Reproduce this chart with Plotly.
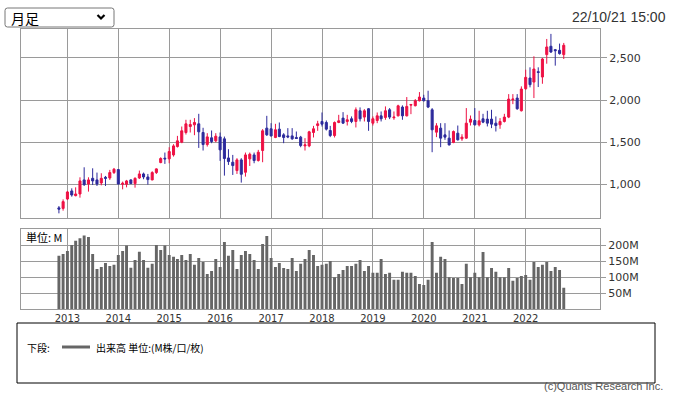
import plotly.graph_objects as go
import pandas as pd

W, H = 675, 398
def px(x): return x / W
def py(y): return 1 - y / H

# ---- data (monthly, Nov 2012 .. Oct 2022) ----
months = pd.date_range("2012-11-01", periods=120, freq="MS").strftime("%Y-%m-%d").tolist()

open_ = [720, 714, 825, 921, 865, 885, 1052, 1004, 1071, 1052, 1016, 1083, 1075, 1139, 1175, 1000, 1000, 1052, 1008, 1075,
         1123, 1087, 1052, 1139, 1258, 1310, 1302, 1349, 1448, 1500, 1615, 1686, 1706, 1718, 1615, 1472, 1552, 1516, 1563, 1540,
         1313, 1262, 1163, 1290, 1143, 1302, 1349, 1282, 1401, 1667, 1659, 1556, 1655, 1587, 1575, 1575, 1556, 1560, 1456, 1456,
         1615, 1698, 1746, 1734, 1639, 1579, 1734, 1786, 1746, 1778, 1746, 1873, 1798, 1897, 1726, 1758, 1813, 1794, 1885, 1790,
         1813, 1917, 1813, 1940, 1933, 1992, 2024, 1992, 1885, 1619, 1667, 1587, 1548, 1496, 1607, 1540, 1548, 1738, 1758, 1706,
         1778, 1774, 1774, 1726, 1706, 1746, 1798, 2004, 2024, 1873, 2135, 2262, 2214, 2337, 2274, 2540, 2639, 2599, 2591, 2540]
high = [742, 821, 921, 952, 964, 1083, 1202, 1083, 1190, 1139, 1131, 1099, 1171, 1194, 1179, 1032, 1052, 1060, 1083, 1163,
        1139, 1123, 1155, 1190, 1321, 1377, 1440, 1476, 1575, 1686, 1766, 1766, 1786, 1837, 1671, 1607, 1639, 1607, 1615, 1567,
        1417, 1349, 1310, 1310, 1377, 1377, 1377, 1409, 1655, 1813, 1726, 1718, 1734, 1607, 1667, 1667, 1627, 1575, 1548, 1635,
        1694, 1754, 1853, 1758, 1694, 1746, 1825, 1857, 1825, 1806, 1913, 1913, 1893, 1905, 1806, 1853, 1865, 1925, 1905, 1865,
        1945, 1937, 2036, 1952, 2012, 2095, 2063, 2111, 1905, 1726, 1726, 1726, 1639, 1639, 1698, 1595, 1905, 1817, 1905, 1873,
        1837, 1873, 1885, 1806, 1786, 1837, 2071, 2071, 2071, 2163, 2361, 2389, 2520, 2389, 2500, 2726, 2786, 2607, 2671, 2679]
low = [655, 687, 813, 853, 857, 841, 980, 913, 992, 980, 988, 980, 1052, 1123, 996, 940, 964, 1004, 960, 1063,
       1060, 996, 1048, 1123, 1250, 1242, 1250, 1329, 1437, 1488, 1591, 1615, 1583, 1432, 1401, 1448, 1488, 1500, 1278, 1103,
       1230, 1111, 1123, 1020, 1091, 1218, 1250, 1270, 1262, 1575, 1567, 1548, 1560, 1488, 1548, 1528, 1540, 1440, 1401, 1440,
       1556, 1635, 1686, 1639, 1560, 1556, 1726, 1718, 1698, 1726, 1675, 1746, 1746, 1635, 1698, 1726, 1746, 1766, 1774, 1766,
       1806, 1766, 1806, 1833, 1925, 1984, 1984, 1905, 1381, 1560, 1441, 1528, 1460, 1488, 1520, 1516, 1540, 1698, 1698, 1687,
       1726, 1687, 1667, 1627, 1659, 1734, 1786, 1952, 1885, 1865, 2123, 2151, 2024, 2155, 2194, 2432, 2560, 2409, 2540, 2488]
close = [705, 794, 909, 873, 885, 1040, 996, 1052, 1040, 1004, 1071, 1071, 1139, 1179, 1004, 1012, 1040, 1008, 1071, 1123,
         1087, 1056, 1139, 1183, 1306, 1302, 1389, 1456, 1516, 1635, 1718, 1710, 1734, 1623, 1472, 1563, 1508, 1571, 1409, 1306,
         1270, 1222, 1290, 1119, 1349, 1357, 1282, 1381, 1635, 1587, 1575, 1647, 1567, 1556, 1563, 1540, 1544, 1460, 1468, 1623,
         1659, 1718, 1714, 1655, 1579, 1734, 1754, 1726, 1766, 1746, 1885, 1778, 1873, 1746, 1778, 1813, 1778, 1873, 1798, 1798,
         1932, 1813, 1925, 1948, 1992, 2036, 1992, 1917, 1647, 1694, 1548, 1560, 1468, 1627, 1528, 1560, 1726, 1774, 1706, 1754,
         1738, 1726, 1714, 1698, 1746, 1798, 2012, 2012, 1897, 2131, 2270, 2183, 2369, 2329, 2488, 2631, 2571, 2587, 2552, 2651]
volume_m = [167, 173, 182, 201, 214, 222, 231, 226, 173, 126, 132, 145, 135, 139, 170, 182, 199, 130, 154, 180,
            154, 130, 142, 201, 185, 199, 170, 164, 157, 170, 154, 173, 139, 160, 148, 110, 120, 157, 132, 210,
            167, 185, 126, 170, 182, 173, 154, 126, 204, 229, 160, 132, 145, 129, 126, 160, 120, 142, 157, 185,
            170, 135, 139, 142, 151, 100, 110, 123, 135, 135, 142, 154, 120, 135, 114, 114, 157, 110, 114, 92,
            92, 117, 114, 114, 104, 79, 76, 92, 210, 114, 164, 157, 100, 98, 98, 79, 142, 100, 114, 100,
            179, 100, 129, 117, 100, 100, 129, 89, 98, 104, 107, 92, 148, 132, 139, 148, 120, 132, 123, 67]

year_ticks = [f"{y}-01-01" for y in range(2013, 2023)]
year_labels = [str(y) for y in range(2013, 2023)]
price_ticks = [1000, 1500, 2000, 2500]
price_labels = ["1,000", "1,500", "2,000", "2,500"]
vol_ticks = [50, 100, 150, 200]
vol_labels = ["50M", "100M", "150M", "200M"]

UP = "#ee1144"
DOWN = "#2c2a9c"
GRID = "#9a9a9a"
XRANGE = ["2012-02-03", "2023-06-18"]

fig = go.Figure()
fig.add_trace(go.Candlestick(
    x=months, open=open_, high=high, low=low, close=close,
    increasing=dict(line=dict(color=UP, width=1), fillcolor=UP),
    decreasing=dict(line=dict(color=DOWN, width=1), fillcolor=DOWN),
    whiskerwidth=0, hoverinfo="none", xaxis="x", yaxis="y", showlegend=False))
fig.add_trace(go.Bar(
    x=months, y=volume_m, marker=dict(color="#666666", line=dict(width=0)),
    hoverinfo="none", xaxis="x2", yaxis="y2", showlegend=False))

axis_common = dict(showgrid=True, gridcolor=GRID, gridwidth=1, showline=True, mirror=True,
                   linecolor=GRID, linewidth=1, zeroline=False, fixedrange=True, automargin=False)

fig.update_layout(
    template="none",
    width=W, height=H,
    margin=dict(l=0, r=0, t=0, b=0),
    paper_bgcolor="white", plot_bgcolor="white",
    font=dict(family="DejaVu Sans", size=11, color="#333333"),
    hovermode=False, showlegend=False,
    bargap=0.25, boxgap=0.25,
    xaxis=dict(domain=[px(21), px(600)], anchor="y", type="date", range=XRANGE,
               tickvals=year_ticks, ticktext=year_labels, showticklabels=False, ticks="",
               rangeslider=dict(visible=False), **axis_common),
    yaxis=dict(domain=[py(217.7), py(28.7)], anchor="x", range=[603.3, 2847.8], side="right",
               tickvals=price_ticks, ticktext=price_labels, ticks="outside", ticklen=6, tickcolor=GRID,
               tickfont=dict(family="DejaVu Sans", size=11, color="#333333"), **axis_common),
    xaxis2=dict(domain=[px(21), px(600)], anchor="y2", type="date", range=XRANGE,
                tickvals=year_ticks, ticktext=year_labels, showticklabels=True, ticks="",
                tickfont=dict(family="DejaVu Sans", size=10, color="#333333"), **axis_common),
    yaxis2=dict(domain=[py(309.3), py(229.3)], anchor="x2", range=[0, 250], side="right",
                tickvals=vol_ticks, ticktext=vol_labels, ticks="outside", ticklen=5, tickcolor=GRID,
                tickfont=dict(family="DejaVu Sans", size=11, color="#333333"), **axis_common),
)

# dropdown box (rounded rectangle) and chevron
x0, x1, y0, y1, r = 5, 114, 8, 27, 2.5
rr = (f"M {px(x0 + r)} {py(y0)} L {px(x1 - r)} {py(y0)} Q {px(x1)} {py(y0)} {px(x1)} {py(y0 + r)} "
      f"L {px(x1)} {py(y1 - r)} Q {px(x1)} {py(y1)} {px(x1 - r)} {py(y1)} "
      f"L {px(x0 + r)} {py(y1)} Q {px(x0)} {py(y1)} {px(x0)} {py(y1 - r)} "
      f"L {px(x0)} {py(y0 + r)} Q {px(x0)} {py(y0)} {px(x0 + r)} {py(y0)} Z")
chev = f"M {px(97.5)} {py(15)} L {px(101)} {py(18.5)} L {px(104.5)} {py(15)}"

shapes = [
    dict(type="path", xref="paper", yref="paper", path=rr, line=dict(color="#767676", width=1)),
    dict(type="path", xref="paper", yref="paper", path=chev, line=dict(color="#000000", width=2.2)),
    dict(type="rect", xref="paper", yref="paper", x0=px(17), x1=px(655), y0=py(383), y1=py(323),
         line=dict(color="#000000", width=1)),
    dict(type="line", xref="paper", yref="paper", x0=px(62), x1=px(90), y0=py(347), y1=py(347),
         line=dict(color="#666666", width=3)),
]
fig.update_layout(shapes=shapes)

cjk = "Noto Sans CJK JP"
annotations = [
    dict(text="月足", x=px(9), y=py(17.5), xanchor="left", yanchor="middle",
         font=dict(family=cjk, size=14, color="#000000")),
    dict(text="22/10/21 15:00", x=px(668), y=py(17), xanchor="right", yanchor="middle",
         font=dict(family="Liberation Sans", size=14, color="#333333")),
    dict(text="単位: M", x=px(24), y=py(237), xanchor="left", yanchor="middle",
         font=dict(family=cjk, size=11, color="#000000")),
    dict(text="下段:", x=px(25), y=py(347), xanchor="left", yanchor="middle",
         font=dict(family=cjk, size=10, color="#000000")),
    dict(text="出来高 単位:(M株/口/枚)", x=px(94), y=py(347), xanchor="left", yanchor="middle",
         font=dict(family=cjk, size=10, color="#000000")),
    dict(text="(c)Quants Research Inc.", x=px(665), y=py(386), xanchor="right", yanchor="middle",
         font=dict(family="Liberation Sans", size=11, color="#555555")),
]
for a in annotations:
    a.update(xref="paper", yref="paper", showarrow=False)
fig.update_layout(annotations=annotations)

fig.write_html("out.html", config={"displayModeBar": False},
               post_script="document.body.style.margin='0';document.body.style.overflow='hidden';")
